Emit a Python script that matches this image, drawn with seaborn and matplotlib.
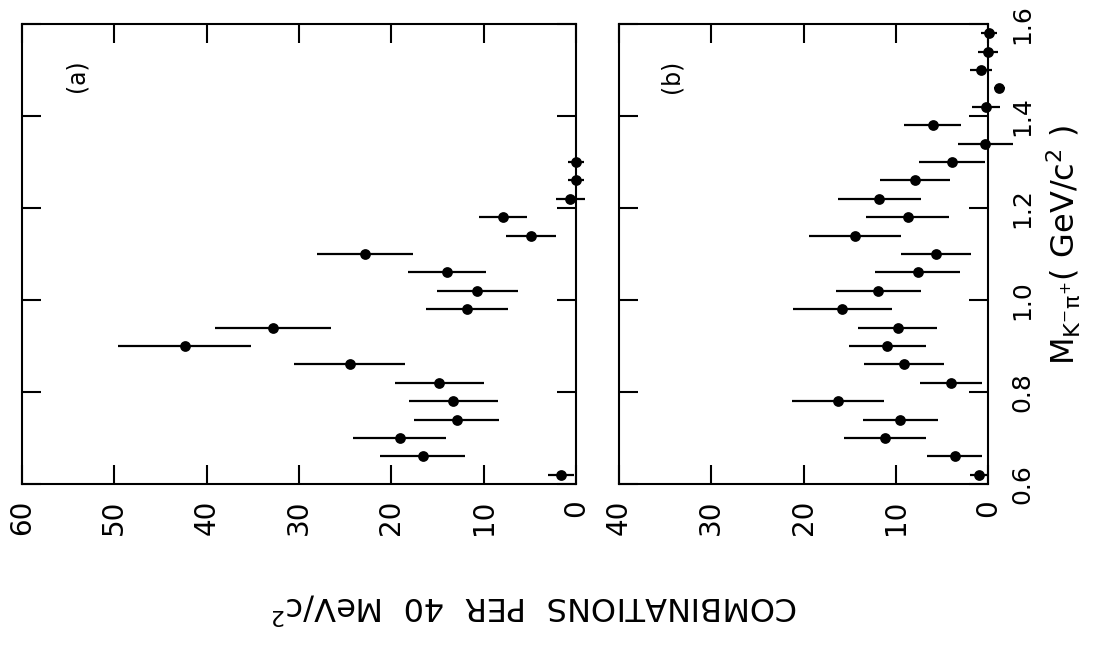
import numpy as np
import pandas as pd
import seaborn as sns
import matplotlib
matplotlib.use('Agg')
import matplotlib.pyplot as plt

# K- pi+ mass spectra (panel a / panel b)
mass_a = [0.62, 0.66, 0.70, 0.74, 0.78, 0.82, 0.86, 0.90, 0.94, 0.98,
          1.02, 1.06, 1.10, 1.14, 1.18, 1.22, 1.26, 1.30]
count_a = [1.6, 16.6, 19.1, 12.9, 13.3, 14.8, 24.5, 42.4, 32.8, 11.8,
           10.7, 14.0, 22.9, 4.9, 7.9, 0.6, 0.0, 0.0]
err_a = [1.4, 4.6, 5.0, 4.6, 4.8, 4.8, 6.0, 7.2, 6.3, 4.4,
         4.4, 4.2, 5.2, 2.7, 2.6, 1.6, 0.9, 0.9]

mass_b = [0.62, 0.66, 0.70, 0.74, 0.78, 0.82, 0.86, 0.90, 0.94, 0.98,
          1.02, 1.06, 1.10, 1.14, 1.18, 1.22, 1.26, 1.30, 1.34, 1.38,
          1.42, 1.46, 1.50, 1.54, 1.58]
count_b = [1.0, 3.6, 11.2, 9.5, 16.3, 4.0, 9.1, 10.9, 9.8, 15.8,
           11.9, 7.6, 5.6, 14.4, 8.7, 11.8, 7.9, 3.9, 0.3, 6.0,
           0.2, -1.2, 0.8, 0.0, -0.1]
err_b = [1.0, 3.0, 4.45, 4.1, 5.0, 3.4, 4.3, 4.2, 4.3, 5.35,
         4.6, 4.6, 3.8, 5.0, 4.5, 4.5, 3.8, 3.6, 3.0, 3.1,
         1.5, 0.6, 1.2, 1.1, 0.9]

count_ticks_a = [0, 10, 20, 30, 40, 50, 60]
count_ticks_b = [0, 10, 20, 30, 40]
mass_ticks = [0.6, 0.8, 1.0, 1.2, 1.4, 1.6]
mass_labels = ['0.6', '0.8', '1.0', '1.2', '1.4', '1.6']

df_a = pd.DataFrame({'mass': mass_a, 'count': count_a, 'err': err_a})
df_b = pd.DataFrame({'mass': mass_b, 'count': count_b, 'err': err_b})

sns.set_style('ticks')
plt.rcParams['font.family'] = ['DejaVu Sans']
plt.rcParams['text.color'] = 'black'
plt.rcParams['xtick.color'] = 'black'
plt.rcParams['ytick.color'] = 'black'

W, H = 1113, 664
fig = plt.figure(figsize=(W / 100, H / 100), dpi=100)
ax_a = fig.add_axes([22 / W, 180 / H, 554 / W, 460 / H])
ax_b = fig.add_axes([619 / W, 180 / H, 369 / W, 460 / H])


def draw_panel(ax, df, xmax, xticks, tag, tag_x):
    ax.errorbar(df['count'], df['mass'], xerr=df['err'], fmt='none',
                ecolor='black', elinewidth=1.6, capsize=0, clip_on=False, zorder=3)
    sns.scatterplot(data=df, x='count', y='mass', ax=ax, color='black',
                    s=60, edgecolor='black', linewidth=0, clip_on=False, zorder=4)
    ax.set_xlim(xmax, 0)
    ax.set_ylim(0.6, 1.6)
    ax.set_xticks(xticks)
    ax.set_xticklabels([str(t) for t in xticks], rotation=90, fontsize=20)
    ax.set_yticks(mass_ticks)
    ax.tick_params(axis='both', direction='in', length=14, width=1.5,
                   top=True, right=True, left=True, bottom=True)
    ax.tick_params(axis='x', pad=11)
    ax.set_xlabel('')
    ax.set_ylabel('')
    for sp in ax.spines.values():
        sp.set_linewidth(1.5)
        sp.set_color('black')
    ax.text(tag_x, 0.887, tag, transform=ax.transAxes, rotation=90,
            fontsize=17, ha='center', va='center')


draw_panel(ax_a, df_a, 60, count_ticks_a, '(a)', 0.0975)
ax_a.set_yticklabels([])

draw_panel(ax_b, df_b, 40, count_ticks_b, '(b)', 0.1436)
ax_b.yaxis.set_ticks_position('both')
ax_b.tick_params(axis='y', labelleft=False, labelright=True, pad=16)
ax_b.set_yticklabels(mass_labels, rotation=90, fontsize=18, va='center')

fig.text(1064 / W, 1 - 245 / H, r'M$_{\mathregular{K^{-}\pi^{+}}}$( GeV/c$^{2}$ )',
         rotation=90, fontsize=23, ha='center', va='center')
fig.text(535 / W, 1 - 607 / H, r'COMBINATIONS  PER  40  MeV/c$^{2}$',
         rotation=180, fontsize=23, ha='center', va='center')

fig.savefig('out.png', dpi=100, facecolor='white')
